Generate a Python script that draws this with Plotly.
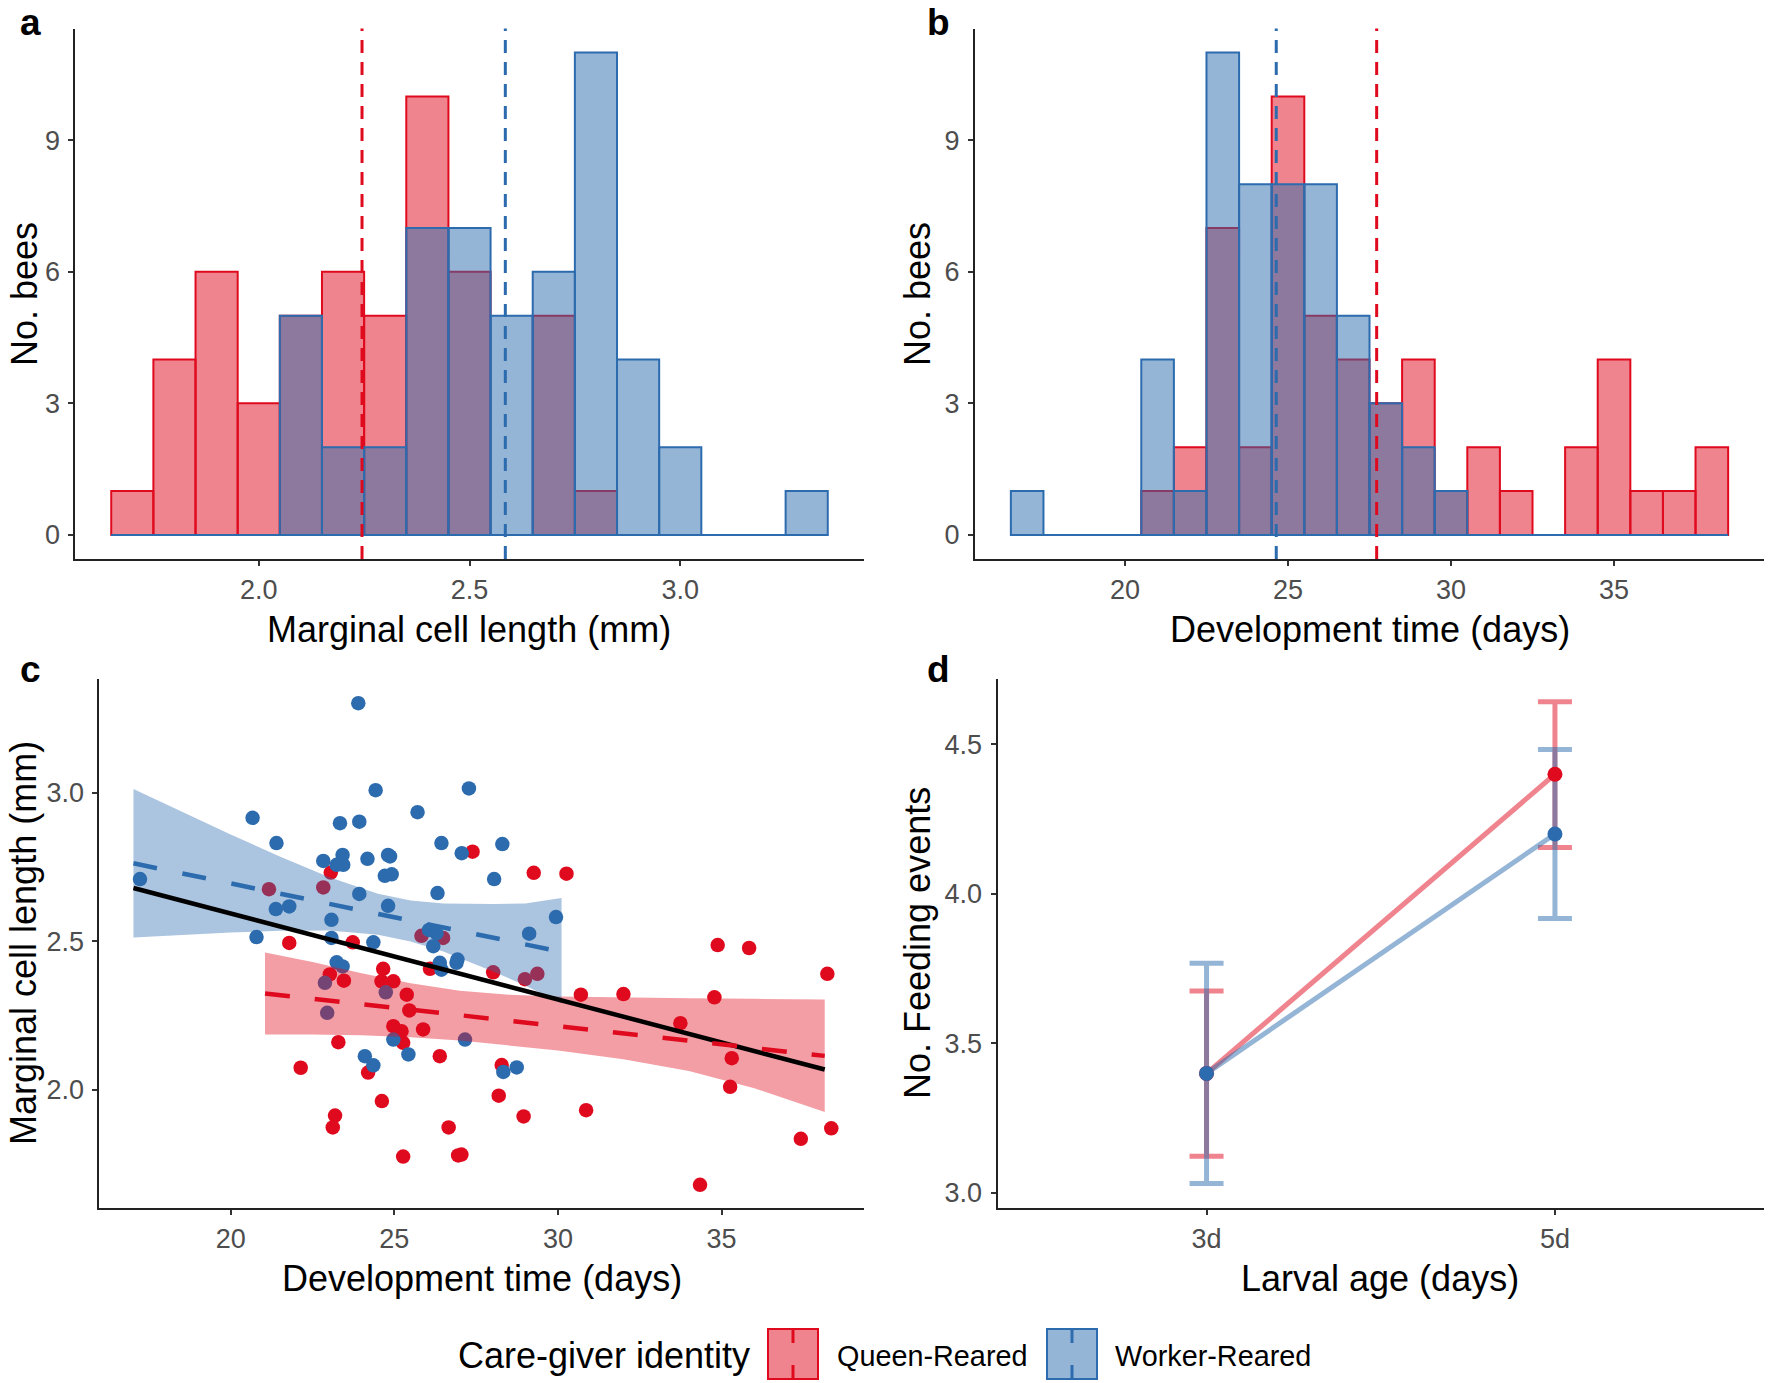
import plotly.graph_objects as go

# ---------------- DATA ----------------
# Panel a: histogram of marginal cell length (bin centres, counts)
cell_bins = [1.7, 1.8, 1.9, 2.0, 2.1, 2.2, 2.3, 2.4, 2.5, 2.6, 2.7, 2.8, 2.9, 3.0, 3.1, 3.2, 3.3]
cell_queen = [1, 4, 6, 3, 5, 6, 5, 10, 6, 0, 5, 1, 0, 0, 0, 0, 0]
cell_worker = [0, 0, 0, 0, 5, 2, 2, 7, 7, 5, 6, 11, 4, 2, 0, 0, 1]
cell_means = {"queen": 2.245, "worker": 2.585}

# Panel b: histogram of development time
dev_bins = [17, 18, 19, 20, 21, 22, 23, 24, 25, 26, 27, 28, 29, 30, 31, 32, 33, 34, 35, 36, 37, 38]
dev_queen = [0, 0, 0, 0, 1, 2, 7, 2, 10, 5, 4, 3, 4, 1, 2, 1, 0, 2, 4, 1, 1, 2]
dev_worker = [1, 0, 0, 0, 4, 1, 11, 8, 8, 8, 5, 3, 2, 1, 0, 0, 0, 0, 0, 0, 0, 0]
dev_means = {"queen": 27.72, "worker": 24.64}

# Panel c: scatter (development time, marginal cell length)
queen_dev = [21.17, 22.83, 23.06, 21.79, 23.73, 22.14, 23.29, 23.19, 23.12, 23.03, 23.46, 24.20, 24.66,
             24.61, 24.97, 24.62, 24.97, 25.22, 25.27, 25.38, 25.46, 25.27, 25.88, 25.83, 26.49, 26.09,
             26.39, 26.66, 26.95, 27.05, 27.39, 28.02, 28.28, 28.19, 28.99, 29.37, 28.95, 29.26, 30.26,
             30.70, 30.86, 32.00, 33.74, 34.34, 34.78, 34.88, 35.84, 35.31, 35.26, 37.42, 38.23, 38.35]
queen_cell = [2.675, 2.681, 2.731, 2.494, 2.496, 2.074, 2.160, 1.913, 1.873, 2.388, 2.367, 2.058, 2.407,
              2.365, 2.365, 1.962, 2.214, 2.197, 2.158, 2.320, 2.267, 1.775, 2.203, 2.518, 2.511, 2.407,
              2.113, 1.873, 1.779, 1.782, 2.801, 2.395, 2.083, 1.980, 2.372, 2.390, 1.910, 2.730, 2.727,
              2.320, 1.931, 2.322, 2.224, 1.680, 2.311, 2.487, 2.477, 2.106, 2.010, 1.835, 2.390, 1.870]
worker_dev = [17.23, 20.67, 20.79, 21.40, 21.38, 21.79, 22.83, 23.08, 23.08, 23.24, 23.42, 23.34, 23.24,
              23.42, 23.44, 23.93, 23.90, 23.93, 24.18, 24.10, 24.36, 24.36, 24.43, 24.81, 24.87, 24.71,
              24.92, 24.81, 24.97, 25.43, 25.71, 26.06, 26.19, 26.32, 26.44, 26.39, 26.44, 26.90, 26.93,
              27.06, 27.16, 27.28, 28.05, 28.30, 28.33, 28.74, 29.12, 29.94, 22.88, 22.95, 24.74, 26.29]
worker_cell = [2.709, 2.915, 2.514, 2.830, 2.608, 2.617, 2.770, 2.572, 2.511, 2.429, 2.415, 2.897, 2.757,
               2.790, 2.757, 2.902, 3.301, 2.659, 2.777, 2.113, 2.082, 2.496, 3.008, 2.790, 2.785, 2.720,
               2.725, 2.619, 2.169, 2.119, 2.934, 2.538, 2.483, 2.662, 2.830, 2.427, 2.404, 2.427, 2.438,
               2.796, 2.169, 3.014, 2.709, 2.827, 2.060, 2.075, 2.525, 2.581, 2.360, 2.259, 2.328, 2.527]

# regression fits
overall_fit_x = [17.03, 38.15]
overall_fit_y = [2.679, 2.068]
worker_fit_x = [17.03, 30.11]
worker_fit_y = [2.762, 2.464]
queen_fit_x = [21.05, 38.15]
queen_fit_y = [2.324, 2.114]
worker_band_x = [17.03, 18.5, 20.0, 21.5, 23.0, 24.5, 25.5, 26.5, 28.0, 29.0, 30.11]
worker_band_hi = [3.012, 2.936, 2.859, 2.785, 2.716, 2.660, 2.637, 2.627, 2.625, 2.627, 2.645]
worker_band_lo = [2.512, 2.520, 2.529, 2.535, 2.536, 2.522, 2.499, 2.465, 2.399, 2.351, 2.290]
queen_band_x = [21.05, 22.5, 24.0, 25.5, 27.0, 28.5, 30.0, 32.0, 34.0, 36.0, 38.15]
queen_band_hi = [2.462, 2.430, 2.392, 2.358, 2.333, 2.320, 2.314, 2.310, 2.308, 2.306, 2.304]
queen_band_lo = [2.186, 2.186, 2.183, 2.177, 2.166, 2.150, 2.132, 2.103, 2.063, 2.005, 1.925]

# Panel d: feeding events
ages = ["3d", "5d"]
queen_feed = [3.40, 4.40]
queen_feed_hi = [3.675, 4.642]
queen_feed_lo = [3.123, 4.155]
worker_feed = [3.40, 4.20]
worker_feed_hi = [3.768, 4.483]
worker_feed_lo = [3.032, 3.918]

# ---------------- STYLE ----------------
W, H = 1770, 1383
RED = "rgb(224,10,30)"
BLUE = "rgb(44,107,174)"
RED_FILL = "rgba(224,10,30,0.5)"
BLUE_FILL = "rgba(44,107,174,0.5)"
RED_BAND = "rgba(224,10,30,0.4)"
BLUE_BAND = "rgba(44,107,174,0.4)"
FONT = "Liberation Sans, Arial, sans-serif"


def fx(p):
    return p / W


def fy(p):
    return 1 - p / H


fig = go.Figure()

# ---- panel a ----
fig.add_trace(go.Bar(x=cell_bins, y=cell_queen, width=0.1, marker=dict(color=RED_FILL, line=dict(color=RED, width=2)),
                     xaxis="x", yaxis="y"))
fig.add_trace(go.Bar(x=cell_bins, y=cell_worker, width=0.1, marker=dict(color=BLUE_FILL, line=dict(color=BLUE, width=2)),
                     xaxis="x", yaxis="y"))
half = 0.05
fig.add_trace(go.Scatter(x=[cell_bins[0] - half, cell_bins[-1] + half], y=[0, 0], mode="lines",
                         line=dict(color=BLUE, width=2), xaxis="x", yaxis="y"))

# ---- panel b ----
fig.add_trace(go.Bar(x=dev_bins, y=dev_queen, width=1, marker=dict(color=RED_FILL, line=dict(color=RED, width=2)),
                     xaxis="x2", yaxis="y2"))
fig.add_trace(go.Bar(x=dev_bins, y=dev_worker, width=1, marker=dict(color=BLUE_FILL, line=dict(color=BLUE, width=2)),
                     xaxis="x2", yaxis="y2"))
fig.add_trace(go.Scatter(x=[dev_bins[0] - 0.5, dev_bins[-1] + 0.5], y=[0, 0], mode="lines",
                         line=dict(color=BLUE, width=2), xaxis="x2", yaxis="y2"))

# ---- panel c ----
fig.add_trace(go.Scatter(x=queen_dev, y=queen_cell, mode="markers", marker=dict(color=RED, size=14.5),
                         xaxis="x3", yaxis="y3"))
fig.add_trace(go.Scatter(x=worker_dev, y=worker_cell, mode="markers", marker=dict(color=BLUE, size=14.5),
                         xaxis="x3", yaxis="y3"))
fig.add_trace(go.Scatter(x=queen_band_x + queen_band_x[::-1], y=queen_band_hi + queen_band_lo[::-1],
                         fill="toself", fillcolor=RED_BAND, line=dict(width=0), mode="lines",
                         xaxis="x3", yaxis="y3"))
fig.add_trace(go.Scatter(x=worker_band_x + worker_band_x[::-1], y=worker_band_hi + worker_band_lo[::-1],
                         fill="toself", fillcolor=BLUE_BAND, line=dict(width=0), mode="lines",
                         xaxis="x3", yaxis="y3"))
fig.add_trace(go.Scatter(x=overall_fit_x, y=overall_fit_y, mode="lines", line=dict(color="black", width=4.5),
                         xaxis="x3", yaxis="y3"))
fig.add_trace(go.Scatter(x=queen_fit_x, y=queen_fit_y, mode="lines",
                         line=dict(color=RED, width=4.5, dash="25px,25px"), xaxis="x3", yaxis="y3"))
fig.add_trace(go.Scatter(x=worker_fit_x, y=worker_fit_y, mode="lines",
                         line=dict(color=BLUE, width=4.5, dash="24px,26px"), xaxis="x3", yaxis="y3"))


# ---- panel d ----
def err(mean, hi, lo):
    return ([h - m for h, m in zip(hi, mean)], [m - l for m, l in zip(mean, lo)])


q_up, q_dn = err(queen_feed, queen_feed_hi, queen_feed_lo)
w_up, w_dn = err(worker_feed, worker_feed_hi, worker_feed_lo)
fig.add_trace(go.Scatter(x=ages, y=queen_feed, mode="lines", line=dict(color="rgba(224,10,30,0.5)", width=5),
                         error_y=dict(type="data", array=q_up, arrayminus=q_dn, color="rgba(224,10,30,0.5)",
                                      thickness=5, width=17),
                         xaxis="x4", yaxis="y4"))
fig.add_trace(go.Scatter(x=ages, y=worker_feed, mode="lines", line=dict(color="rgba(44,107,174,0.5)", width=5),
                         error_y=dict(type="data", array=w_up, arrayminus=w_dn, color="rgba(44,107,174,0.5)",
                                      thickness=5, width=17),
                         xaxis="x4", yaxis="y4"))
fig.add_trace(go.Scatter(x=ages, y=queen_feed, mode="markers", marker=dict(color=RED, size=15),
                         xaxis="x4", yaxis="y4"))
fig.add_trace(go.Scatter(x=ages, y=worker_feed, mode="markers", marker=dict(color=BLUE, size=15),
                         xaxis="x4", yaxis="y4"))

# ---------------- AXES ----------------
axis_common = dict(showline=True, linecolor="#222222", linewidth=2, ticks="outside", ticklen=5,
                   tickwidth=2, tickcolor="#333333", showgrid=False, zeroline=False,
                   tickfont=dict(family=FONT, size=27, color="#4D4D4D"))
xax = dict(ticklabelstandoff=1, **axis_common)
yax = dict(ticklabelstandoff=3, **axis_common)

dom_a = dict(x=[fx(75.4), fx(863.6)], y=[fy(559), fy(28.5)])
dom_b = dict(x=[fx(975), fx(1764)], y=[fy(559), fy(28.5)])
dom_c = dict(x=[fx(99.4), fx(864)], y=[fy(1208), fy(678.5)])
dom_d = dict(x=[fx(997.5), fx(1764)], y=[fy(1208), fy(678.5)])

fig.update_layout(
    xaxis=dict(domain=dom_a["x"], anchor="y", range=[1.565, 3.435], tickvals=[2.0, 2.5, 3.0],
               ticktext=["2.0", "2.5", "3.0"], **xax),
    yaxis=dict(domain=dom_a["y"], anchor="x", range=[-0.55, 11.55], tickvals=[0, 3, 6, 9], **yax),
    xaxis2=dict(domain=dom_b["x"], anchor="y2", range=[15.4, 39.6], tickvals=[20, 25, 30, 35], **xax),
    yaxis2=dict(domain=dom_b["y"], anchor="x2", range=[-0.55, 11.55], tickvals=[0, 3, 6, 9], **yax),
    xaxis3=dict(domain=dom_c["x"], anchor="y3", range=[15.99, 39.35], tickvals=[20, 25, 30, 35], **xax),
    yaxis3=dict(domain=dom_c["y"], anchor="x3", range=[1.602, 3.384], tickvals=[2.0, 2.5, 3.0],
                ticktext=["2.0", "2.5", "3.0"], **yax),
    xaxis4=dict(domain=dom_d["x"], anchor="y4", type="category", range=[-0.6, 1.6], **xax),
    yaxis4=dict(domain=dom_d["y"], anchor="x4", range=[2.95, 4.72], tickvals=[3.0, 3.5, 4.0, 4.5],
                ticktext=["3.0", "3.5", "4.0", "4.5"], **yax),
)

# mean lines
shapes = []
for key, col in (("queen", RED), ("worker", BLUE)):
    shapes.append(dict(type="line", xref="x", yref="y domain", x0=cell_means[key], x1=cell_means[key], y0=0, y1=1,
                       line=dict(color=col, width=3, dash="13px,9px")))
    shapes.append(dict(type="line", xref="x2", yref="y2 domain", x0=dev_means[key], x1=dev_means[key], y0=0, y1=1,
                       line=dict(color=col, width=3, dash="13px,9px")))

# legend keys (custom)
for (x0, x1), fill, col in (((768, 818), RED_FILL, RED), ((1047, 1097), BLUE_FILL, BLUE)):
    shapes.append(dict(type="rect", xref="paper", yref="paper", x0=fx(x0), x1=fx(x1), y0=fy(1379), y1=fy(1329),
                       fillcolor=fill, line=dict(color=col, width=2)))
    xm = fx((x0 + x1) / 2)
    shapes.append(dict(type="line", xref="paper", yref="paper", x0=xm, x1=xm, y0=fy(1329), y1=fy(1343),
                       line=dict(color=col, width=3)))
    shapes.append(dict(type="line", xref="paper", yref="paper", x0=xm, x1=xm, y0=fy(1365), y1=fy(1379),
                       line=dict(color=col, width=3)))

annotations = []


def ann(text, x, y, size=36, angle=0, bold=False, xanchor="center", yanchor="middle"):
    annotations.append(dict(text=("<b>%s</b>" % text) if bold else text, x=fx(x), y=fy(y), xref="paper",
                            yref="paper", showarrow=False, textangle=angle, xanchor=xanchor, yanchor=yanchor,
                            font=dict(family=FONT, size=size, color="black")))


ann("a", 30, 0.5, size=37, bold=True, yanchor="top")
ann("b", 939, 0.5, size=37, bold=True, yanchor="top")
ann("c", 30, 647, size=37, bold=True, yanchor="top")
ann("d", 939, 647, size=37, bold=True, yanchor="top")
ann("Marginal cell length (mm)", 469.5, 629)
ann("Development time (days)", 1369.5, 629)
ann("Development time (days)", 481.7, 1278)
ann("Larval age (days)", 1380, 1278)
ann("No. bees", 24, 294, angle=-90)
ann("No. bees", 917, 294, angle=-90)
ann("Marginal cell length (mm)", 23, 943, angle=-90)
ann("No. Feeding events", 917, 943, angle=-90)
ann("Care-giver identity", 456, 1355, xanchor="left")
ann("Queen-Reared", 835, 1356, size=28.8, xanchor="left")
ann("Worker-Reared", 1113, 1356, size=28.8, xanchor="left")

fig.update_layout(
    width=W, height=H, margin=dict(l=0, r=0, t=0, b=0),
    paper_bgcolor="white", plot_bgcolor="white", showlegend=False, barmode="overlay",
    font=dict(family=FONT), shapes=shapes, annotations=annotations,
)

fig.write_html("out.html", config={"displayModeBar": False},
               post_script="document.body.style.margin='0';document.body.style.overflow='hidden';")
